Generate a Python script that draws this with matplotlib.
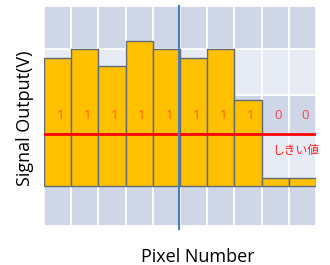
import matplotlib
matplotlib.use("Agg")
import matplotlib.pyplot as plt
from matplotlib.patches import Rectangle

plt.rcParams['font.family'] = ['Open Sans', 'Noto Sans CJK JP', 'DejaVu Sans']

# data
pixels = list(range(1, 11))
signal = [4.95, 5.30, 4.64, 5.62, 5.30, 4.95, 5.30, 3.32, 0.29, 0.29]
threshold = 2.0
bits = ['1' if v > threshold else '0' for v in signal]
band_edges = [-1.57, 0.0, 2.0, 3.51, 5.30, 6.97]
band_colors = ['#cfd7e6', '#e7ebf3', '#cfd7e6', '#e7ebf3', '#cfd7e6']

fig = plt.figure(figsize=(3.3, 2.65), dpi=100)
ax = fig.add_axes([44 / 330, 39 / 265, 272 / 330, 220 / 265])

x0, x1 = 0.5, len(pixels) + 0.5
ax.set_xlim(x0, x1)
ax.set_ylim(band_edges[0], band_edges[-1])

# background cells
for i in range(len(band_colors)):
    for p in pixels:
        ax.add_patch(Rectangle((p - 0.5, band_edges[i]), 1, band_edges[i + 1] - band_edges[i],
                               facecolor=band_colors[i], edgecolor='white', lw=1.2, zorder=0))

ax.bar(pixels, signal, width=1.0, color='#ffc000', edgecolor='#5f6b78', lw=1.0, zorder=2)

for p, b in zip(pixels, bits):
    c = '#ff5a1e' if b == '1' else '#f0445e'
    ax.text(p + 0.1, 2.71, b, ha='center', va='center', color=c, fontsize=9.5, zorder=4)

ax.axhline(threshold, color='#ff0000', lw=2, zorder=3)
ax.text(8.9, 1.35, 'しきい値', color='#ff2020', fontsize=8.5, ha='left', va='center',
        family=['Noto Sans CJK JP'], zorder=4, clip_on=False)

ax.plot([5.48, 5.48], [band_edges[0] - 0.13, band_edges[-1]], color='#4a7ebb', lw=1.5,
        zorder=5, clip_on=False)

for s in ax.spines.values():
    s.set_visible(False)
ax.set_xticks([])
ax.set_yticks([])

fig.text(25 / 330, 1 - 118 / 265, 'Signal Output(V)', rotation=90, ha='center', va='center',
         fontsize=13)
fig.text(198 / 330, 1 - 257 / 265, 'Pixel Number', ha='center', va='center', fontsize=13)

fig.savefig('out.png', dpi=100)
